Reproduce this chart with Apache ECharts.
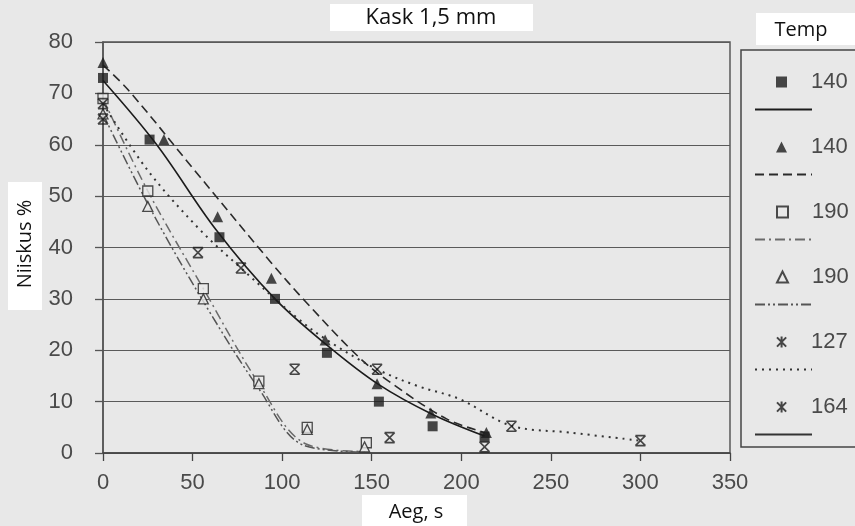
<!DOCTYPE html>
<html>
<head>
<meta charset="utf-8">
<title>Kask 1,5 mm</title>
<script src="https://cdn.jsdelivr.net/npm/echarts@6/dist/echarts.min.js"></script>
<style>
  html, body { margin: 0; padding: 0; background: #e8e8e8; }
  #chart { width: 855px; height: 526px; }
</style>
</head>
<body>
<div id="chart"></div>
<script>
// measured points, [aeg s, niiskus %]
const sq140 = [[0, 73], [26, 61], [65, 42], [96, 30], [125, 19.5], [154, 10], [184, 5.2], [213, 3.2]];
const tri140 = [[0, 76], [34, 61], [64, 46], [94, 34], [124, 22], [153, 13.5], [183, 7.8], [214, 4]];
const osq190 = [[0, 69], [25, 51], [56, 32], [87, 14], [114, 5], [147, 2]];
const otri190 = [[0, 66], [25, 48], [56, 30], [87, 13.5], [114, 4.6], [146, 1.2]];
const star127 = [[0, 68], [77, 36], [153, 16.3], [228, 5.2], [300, 2.4]];
const star164 = [[0, 65], [53, 39], [107, 16.3], [160, 3], [213, 1.2]];

// trend lines
const fitSq140 = [[0, 72.5], [30, 60], [63, 43.5], [96, 30], [125, 21], [154, 13.3], [184, 7.5], [213, 3.3]];
const fitTri140 = [[0, 75.5], [14, 70.7], [50, 55.5], [94, 37], [113, 29.5], [143, 18.6], [161, 13.6], [192, 6.6], [213, 4]];
const fitOsq190 = [[0, 69], [25, 51], [56, 32], [87, 13.5], [113, 1.8], [145, 0.3]];
const fitOtri190 = [[0, 66], [25, 48.5], [56, 29.5], [87, 12.5], [112, 1.5], [146, 0.2]];
const fit127 = [[0, 68], [25, 55], [54, 43.5], [77, 36], [108, 26.4], [125, 22], [153, 16.3], [176, 13], [199, 10.5], [228, 5.3], [260, 4], [300, 2.4]];
const fit164 = [];

const xTicks = [0, 50, 100, 150, 200, 250, 300, 350];
const yTicks = [0, 10, 20, 30, 40, 50, 60, 70, 80];
const tempLabels = ["140", "140", "190", "190", "127", "164"];

const ink = "#1c1c1c";
const paper = "#e8e8e8";
const starPath = "path://M0,0L10,10M10,0L0,10M0,0L10,0M0,10L10,10";
const starIcon = "path://M0,0L10,10M10,0L0,10M5,-1L5,11";

// marker series (one per legend "marker" row)
const markers = [
  { name: "m1", data: sq140, symbol: "rect", size: 10, open: false },
  { name: "m2", data: tri140, symbol: "triangle", size: 11, open: false },
  { name: "m3", data: osq190, symbol: "rect", size: 10, open: true },
  { name: "m4", data: otri190, symbol: "triangle", size: 10, open: true },
  { name: "m5", data: star127, symbol: starPath, size: 10, star: true },
  { name: "m6", data: star164, symbol: starPath, size: 10, star: true },
];

// trend line series (one per legend "line" row)
const trends = [
  { name: "l1", data: fitSq140, type: "solid", color: ink, width: 1.6 },
  { name: "l2", data: fitTri140, type: [9, 5], color: "#2a2a2a", width: 1.6 },
  { name: "l3", data: fitOsq190, type: [10, 4, 2, 4], color: "#6a6a6a", width: 1.5 },
  { name: "l4", data: fitOtri190, type: [10, 3, 2, 3, 2, 3], color: "#555", width: 1.5 },
  { name: "l5", data: fit127, type: [2, 5], color: "#333", width: 2 },
  { name: "l6", data: fit164, type: "solid", color: "#333", width: 1.3 },
];

const chart = echarts.init(document.getElementById("chart"), null, { renderer: "canvas" });

const series = [];
trends.forEach((t) => {
  series.push({
    name: t.name,
    type: "line",
    data: t.data,
    smooth: 0.35,
    symbol: "none",
    showSymbol: false,
    lineStyle: { color: t.color, width: t.width, type: t.type },
    itemStyle: { color: t.color },
    z: 2,
  });
});
markers.forEach((m) => {
  let itemStyle;
  if (m.star) itemStyle = { color: "transparent", borderColor: ink, borderWidth: 1.6 };
  else if (m.open) itemStyle = { color: paper, borderColor: "#222", borderWidth: 1.3 };
  else itemStyle = { color: ink };
  series.push({
    name: m.name,
    type: "scatter",
    data: m.data,
    symbol: m.symbol,
    symbolSize: m.size,
    itemStyle: itemStyle,
    z: 3,
  });
});

// legend: marker rows and line rows interleaved, one legend each
const legends = [];
markers.forEach((m, i) => {
  legends.push({
    left: 771,
    top: 66 + i * 65,
    itemWidth: 11,
    itemHeight: 11,
    selectedMode: false,
    data: [{ name: m.name, icon: m.star ? starIcon : undefined }],
    formatter: () => tempLabels[i],
    textStyle: { color: "#4a4a4a", fontSize: 22, fontFamily: "Liberation Sans", lineHeight: 14, padding: [0, 0, 0, 19] },
  });
});
trends.forEach((t, i) => {
  legends.push({
    left: 749,
    top: 99 + i * 65,
    itemWidth: 57,
    itemHeight: 14,
    itemGap: 0,
    selectedMode: false,
    data: [t.name],
    formatter: () => "",
    itemStyle: { color: "transparent", borderColor: "transparent", borderWidth: 0, opacity: 0 },
    textStyle: { fontSize: 10, lineHeight: 14 },
  });
});

const labelFont = "Liberation Sans";

const option = {
  backgroundColor: paper,
  animation: false,
  grid: {
    left: 103,
    right: 125,
    top: 42,
    bottom: 73,
    show: true,
    borderColor: "#505050",
    borderWidth: 1.4,
    backgroundColor: "transparent",
  },
  xAxis: {
    type: "value",
    min: xTicks[0],
    max: xTicks[xTicks.length - 1],
    interval: 50,
    axisLine: { lineStyle: { color: "#444", width: 1.5 } },
    axisTick: { show: true, inside: false, length: 8, lineStyle: { color: "#444", width: 1.3 } },
    axisLabel: { color: "#4a4a4a", fontSize: 22, fontFamily: labelFont, margin: 19 },
    splitLine: { show: false },
  },
  yAxis: {
    type: "value",
    min: yTicks[0],
    max: yTicks[yTicks.length - 1],
    interval: 10,
    axisLine: { show: true, lineStyle: { color: "#555", width: 1.5 } },
    axisTick: { show: true, inside: false, length: 8, lineStyle: { color: "#555", width: 1.3 } },
    axisLabel: { color: "#4a4a4a", fontSize: 22, fontFamily: labelFont, margin: 30 },
    splitLine: { show: true, lineStyle: { color: "#5a5a5a", width: 1.2 } },
  },
  legend: legends,
  series: series,
  graphic: [
    // legend frame
    { type: "rect", shape: { x: 741, y: 50, width: 140, height: 397 }, style: { fill: "none", stroke: "#444", lineWidth: 1.5 }, silent: true },
    // title box
    { type: "rect", shape: { x: 330, y: 4, width: 203, height: 27 }, style: { fill: "#fff" }, silent: true },
    { type: "text", x: 431, y: 18, style: { text: "Kask 1,5 mm", font: "22px 'Open Sans'", fill: "#111", align: "center", verticalAlign: "middle" }, silent: true },
    // legend heading
    { type: "rect", shape: { x: 756, y: 13, width: 110, height: 32 }, style: { fill: "#fff" }, silent: true },
    { type: "text", x: 801, y: 30, style: { text: "Temp", font: "20px 'Open Sans'", fill: "#111", align: "center", verticalAlign: "middle" }, silent: true },
    // y axis name
    { type: "rect", shape: { x: 8, y: 182, width: 34, height: 128 }, style: { fill: "#fff" }, silent: true },
    { type: "text", x: 25, y: 244, rotation: Math.PI / 2, style: { text: "Niiskus %", font: "20px 'Open Sans'", fill: "#111", align: "center", verticalAlign: "middle" }, silent: true },
    // x axis name
    { type: "rect", shape: { x: 362, y: 495, width: 105, height: 31 }, style: { fill: "#fff" }, silent: true },
    { type: "text", x: 416, y: 512, style: { text: "Aeg, s", font: "20px 'Open Sans'", fill: "#111", align: "center", verticalAlign: "middle" }, silent: true },
  ],
};

chart.setOption(option);
</script>
</body>
</html>
